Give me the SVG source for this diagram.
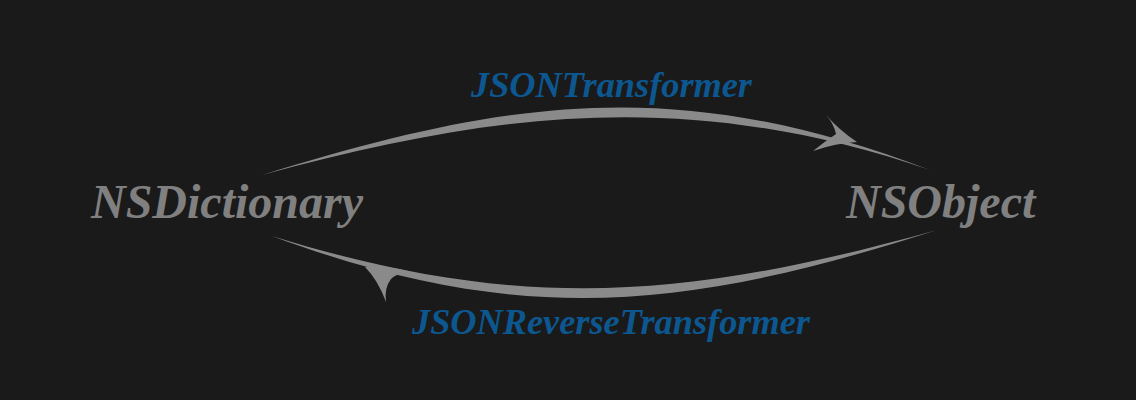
<svg xmlns="http://www.w3.org/2000/svg" width="1136" height="400" viewBox="0 0 1136 400">
<style>
.node{font-family:"Liberation Serif","Times New Roman",serif;font-weight:bold;font-style:italic;font-size:48px;fill:#808080}
.lbl{font-family:"Liberation Serif","Times New Roman",serif;font-weight:bold;font-style:italic;font-size:36.3px;fill:#0c5790}
.arc{fill:#8a8a8a;stroke:none}
</style>
<rect width="1136" height="400" fill="#1a1a1a"/>
<g id="connectors">
<g id="edge-forward">
<path class="arc" d="M262,175 C512,97.5 680,75 930,170 C690,88.4 502,110.2 262,175 Z"/>
<path class="arc" d="M857,142 Q839,130 826,115 Q834,124 836,134 Q824,142 813,151 Q836,143 857,142 Z"/>
<text class="lbl" x="471" y="97">JSONTransformer</text>
</g>
<g id="edge-reverse">
<path class="arc" d="M272,236 C522,328.5 687,310 937,230 C687,299.3 522,313.5 272,236 Z"/>
<path class="arc" d="M365,267 Q387,266 408,271 Q396,274 391,279 Q384,288 386,302 Q378,280 365,267 Z"/>
<text class="lbl" x="412" y="334">JSONReverseTransformer</text>
</g>
</g>
<g id="node-nsdictionary">
<text class="node" x="91" y="218">NSDictionary</text>
</g>
<g id="node-nsobject">
<text class="node" x="846" y="218">NSObject</text>
</g>
</svg>
